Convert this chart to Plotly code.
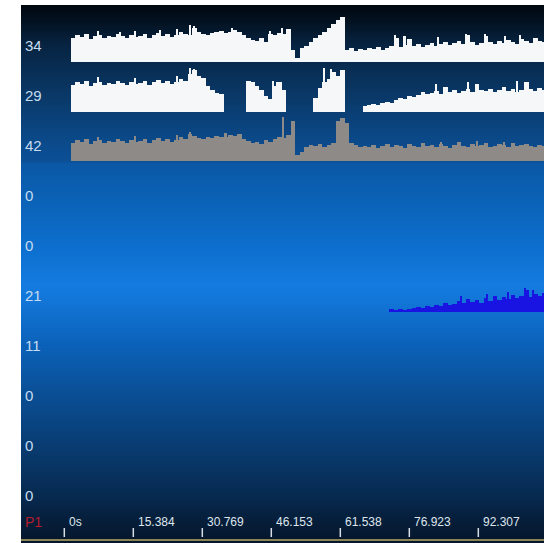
import plotly.graph_objects as go

# ---------------- data ----------------
ROW_LABELS = ["34", "29", "42", "0", "0", "21", "11", "0", "0", "0"]
TICK_VALUES = [0, 15.384, 30.769, 46.153, 61.538, 76.923, 92.307]
TICK_LABELS = ["0s", "15.384", "30.769", "46.153", "61.538", "76.923", "92.307"]

BIN_START = 1.5   # seconds
BIN_WIDTH = 1.0   # seconds

track1 = [24, 27, 25, 28, 23, 26, 27, 24, 26, 25, 28, 26, 24, 27, 25, 26, 28, 24, 27, 29,
          26, 28, 25, 27, 30, 28, 27, 34, 30, 28, 27, 29, 30, 31, 29, 30, 32, 30, 27, 24,
          22, 21, 24, 20, 28, 27, 29, 28, 33, 12, 4, 14, 16, 20, 24, 27, 30, 34, 38, 42,
          45, 12, 14, 11, 13, 12, 14, 13, 15, 12, 14, 16, 24, 15, 17, 23, 16, 18, 15, 17,
          19, 16, 18, 20, 17, 19, 21, 18, 27, 20, 17, 19, 26, 20, 18, 21, 19, 22, 20, 18,
          23, 21, 19, 24, 21, 20]

track2 = [27, 30, 28, 31, 26, 29, 30, 27, 29, 28, 31, 29, 27, 30, 28, 29, 31, 27, 30, 32,
          29, 31, 28, 30, 33, 31, 38, 42, 36, 34, 26, 22, 19, 18, None, None, None, None, None, 31,
          30, 26, 22, 16, 13, 26, 30, 22, None, None, None, None, None, None, 14, 24, 30, 33, 40, 36,
          42, None, None, None, None, 6, 7, 8, 7, 9, 10, 9, 12, 14, 13, 16, 15, 17, 20, 18,
          19, 21, 18, 25, 20, 22, 19, 21, 23, 20, 28, 22, 21, 23, 20, 22, 25, 21, 23, 20,
          22, 30, 23, 21, 24, 22]

track3 = [18, 21, 19, 22, 17, 20, 21, 18, 20, 19, 22, 20, 18, 21, 19, 20, 22, 18, 21, 23,
          20, 22, 19, 21, 24, 22, 27, 25, 23, 22, 24, 23, 25, 24, 24, 26, 25, 27, 22, 20,
          18, 19, 17, 21, 19, 22, 24, 23, 26, 40, 6, 9, 14, 16, 15, 17, 14, 16, 18, 40,
          43, 38, 18, 16, 14, 15, 14, 16, 13, 15, 17, 14, 16, 15, 13, 17, 15, 14, 18, 15,
          16, 14, 17, 15, 13, 16, 19, 15, 14, 17, 15, 16, 18, 14, 15, 17, 16, 14, 18, 15,
          16, 17, 15, 14, 16, 15]

track4 = [None] * 71 + [3, 2, 3, 2, 3, 4, 5, 4, 6, 5, 7, 6, 9, 7, 8, 11, 9, 13, 10, 12,
                        9, 14, 11, 16, 12, 15, 13, 17, 14, 16, 22, 15, 18, 16, 19]

# thin spikes (time in s, height in px)
spike1_t = [7.5, 12.5, 15.8, 21.3, 25.1, 28.0, 28.9, 37.4, 45.9, 48.5, 73.7, 75.9, 83.3, 89.6, 93.8, 98.3, 101.6]
spike1_h = [31, 30, 31, 32, 33, 37, 36, 34, 31, 34, 27, 26, 25, 28, 28, 26, 27]
spike2_t = [7.5, 15.8, 25.1, 28.0, 29.0, 46.5, 47.5, 58.0, 59.5, 83.0, 90.0, 101.0]
spike2_h = [35, 34, 36, 44, 43, 31, 30, 44, 43, 28, 30, 31]
spike3_t = [7.5, 15.8, 25.1, 28.0, 36.0, 48.9, 84.0, 92.0, 98.0]
spike3_h = [24, 25, 26, 29, 28, 44, 19, 20, 19]
spike4_t = [88.6, 94.2, 99.0, 102.8, 104.5]
spike4_h = [16, 18, 20, 24, 22]

# ---------------- layout constants ----------------
W, H = 544, 543
PX_PER_S = 69 / 15.384
X0_PX = 64.3           # pixel of t = 0
LEFT, TOP, BOTTOM = 21, 5, 543
XMIN = (LEFT - X0_PX) / PX_PER_S
XMAX = (W - X0_PX) / PX_PER_S

ROW_TOP_LABEL_Y = 45
ROW_STEP = 50
BASELINES = [62, 112, 161, 312]

fig = go.Figure()

# background gradient (pixel row -> colour)
grad_stops = [(5, "#000810"), (20, "#03111f"), (45, "#072442"), (95, "#0a3867"),
              (145, "#0b4b8d"), (160, "#0b4f95"), (164, "#0a58a6"), (200, "#0b62b6"),
              (250, "#0d70d0"), (285, "#157be0"), (300, "#1276d8"), (345, "#0b61b8"),
              (395, "#0a4e94"), (445, "#093c72"), (495, "#072a50"), (520, "#061e3a"),
              (543, "#05162b")]
cs = [[(p - TOP) / (BOTTOM - TOP), c] for p, c in grad_stops]
rows = list(range(TOP, BOTTOM + 1))
fig.add_trace(go.Heatmap(
    x=[XMIN, XMAX], y=rows, z=[[r] for r in rows[:-1]],
    colorscale=cs, zmin=TOP, zmax=BOTTOM, showscale=False, hoverinfo="skip"))

centers = [BIN_START + BIN_WIDTH * (i + 0.5) for i in range(len(track1))]


def add_track(vals, base, color, x=None, width=BIN_WIDTH * 1.03):
    fig.add_trace(go.Bar(
        x=centers if x is None else x, y=[None if v is None else -v for v in vals], base=base,
        width=width, marker=dict(color=color, line=dict(width=0)),
        hoverinfo="skip", showlegend=False))


WHITE, GREY, BLUE = "#f5f7f9", "#8d8a87", "#1a14e2"
add_track(track1, BASELINES[0], WHITE)
add_track(track2, BASELINES[1], WHITE)
add_track(track3, BASELINES[2], GREY)
add_track(track4, BASELINES[3], BLUE)
add_track(spike1_h, BASELINES[0], WHITE, spike1_t, 0.35)
add_track(spike2_h, BASELINES[1], WHITE, spike2_t, 0.35)
add_track(spike3_h, BASELINES[2], GREY, spike3_t, 0.35)
add_track(spike4_h, BASELINES[3], BLUE, spike4_t, 0.35)

annotations = []
for i, lab in enumerate(ROW_LABELS):
    annotations.append(dict(
        x=0, xref="paper", xanchor="left", xshift=2,
        y=ROW_TOP_LABEL_Y + ROW_STEP * i, yref="y", yanchor="middle",
        text=lab, showarrow=False,
        font=dict(family="Liberation Sans", size=15, color="#c6dcf0")))

annotations.append(dict(
    x=0, xref="paper", xanchor="left", xshift=2, y=522, yref="y", yanchor="middle",
    text="P1", showarrow=False,
    font=dict(family="Liberation Sans", size=14, color="#b41c2c")))

shapes = []
for tv, tl in zip(TICK_VALUES, TICK_LABELS):
    annotations.append(dict(
        x=tv, xref="x", xanchor="left", xshift=3, y=522, yref="y", yanchor="middle",
        text=tl, showarrow=False,
        font=dict(family="Liberation Sans", size=12, color="#dfe6ee")))
    shapes.append(dict(type="line", xref="x", yref="y", x0=tv, x1=tv, y0=528, y1=537,
                       line=dict(color="#d8dee6", width=1.5)))

shapes.append(dict(type="line", xref="paper", yref="y", x0=0, x1=1, y0=540, y1=540,
                   line=dict(color="#8a8552", width=2)))

fig.update_layout(
    width=W, height=H,
    margin=dict(l=LEFT, r=0, t=TOP, b=H - BOTTOM, pad=0),
    paper_bgcolor="white", plot_bgcolor="#05162b",
    barmode="overlay", bargap=0,
    showlegend=False,
    xaxis=dict(range=[XMIN, XMAX], visible=False, fixedrange=True),
    yaxis=dict(range=[BOTTOM, TOP], visible=False, fixedrange=True),
    annotations=annotations, shapes=shapes,
)

fig.write_html("out.html", config={"displayModeBar": False})
